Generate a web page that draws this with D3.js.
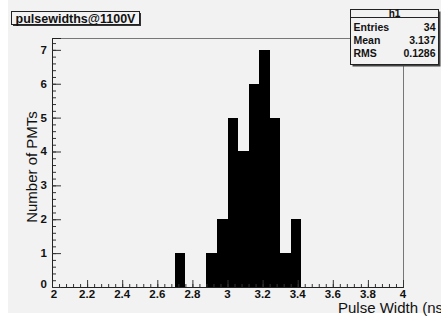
<!DOCTYPE html>
<html>
<head>
<meta charset="utf-8">
<script src="https://cdn.jsdelivr.net/npm/d3@7"></script>
<style>
  body { margin: 0; background: #fff; }
  svg { display: block; }
</style>
</head>
<body>
<div id="chart"></div>
<script>
// histogram data (bin low edges, width 0.06 ns)
var binEdges = [2.70, 2.76, 2.82, 2.88, 2.94, 3.00, 3.06, 3.12, 3.18, 3.24, 3.30, 3.36];
var binCounts = [1, 0, 0, 1, 2, 5, 4, 6, 7, 5, 1, 2];
var binWidth = 0.06;
var xTicks = [2, 2.2, 2.4, 2.6, 2.8, 3, 3.2, 3.4, 3.6, 3.8, 4];
var yTicks = [0, 1, 2, 3, 4, 5, 6, 7];
var statLabels = ["Entries", "Mean", "RMS"];
var statValues = ["34", "3.137", "0.1286"];

var W = 441, H = 316;
var margin = {top: 38, right: 38, bottom: 29, left: 52};
var width = W - margin.left - margin.right,
    height = H - margin.top - margin.bottom;

var svg = d3.select("#chart")
  .append("svg")
    .attr("width", W)
    .attr("height", H)
    .style("font-family", "'Liberation Sans', Arial, sans-serif");

// canvas background
svg.append("rect")
  .attr("x", 8).attr("y", 0)
  .attr("width", W - 8).attr("height", 313)
  .attr("fill", "#f2f2f2");

var g = svg.append("g")
  .attr("transform", "translate(" + margin.left + "," + margin.top + ")");

var x = d3.scaleLinear().domain([2, 4]).range([0, width]);
var y = d3.scaleLinear().domain([0, 7.35]).range([height, 0]);

// bars
g.selectAll("rect.bin")
  .data(binEdges)
  .enter()
  .append("rect")
    .attr("class", "bin")
    .attr("x", function(d) { return x(d); })
    .attr("width", function(d) { return x(d + binWidth) - x(d); })
    .attr("y", function(d, i) { return y(binCounts[i]); })
    .attr("height", function(d, i) { return y(0) - y(binCounts[i]); })
    .attr("fill", "#000")
    .attr("shape-rendering", "crispEdges");

// frame top/right
g.append("path")
  .attr("d", "M0,0.5H" + (width + 0.5) + "V" + height)
  .attr("fill", "none")
  .attr("stroke", "#777");

// x axis: minor ticks, then major
var xAxis = g.append("g").attr("transform", "translate(0," + height + ")");
xAxis.call(d3.axisTop(x).tickValues(d3.range(2, 4.001, 0.04)).tickSize(3).tickFormat(""));
xAxis.append("g").call(d3.axisTop(x).tickValues(xTicks).tickSize(7).tickFormat(""));
xAxis.selectAll(".domain").attr("stroke", "#222");
xAxis.selectAll("line").attr("stroke", "#333");
xAxis.selectAll("text.lab")
  .data(xTicks)
  .enter()
  .append("text")
    .attr("class", "lab")
    .attr("x", function(d) { return x(d) + (d === 2 ? 2 : 0); })
    .attr("y", 11)
    .attr("text-anchor", "middle")
    .attr("fill", "#111")
    .attr("font-size", "11.5px")
    .attr("font-weight", "bold")
    .text(function(d) { return d; });

// y axis
var yAxis = g.append("g");
yAxis.call(d3.axisRight(y).tickValues(d3.range(0, 7.35, 0.2)).tickSize(4).tickFormat(""));
yAxis.append("g").call(d3.axisRight(y).tickValues(yTicks).tickSize(9).tickFormat(""));
yAxis.selectAll(".domain").attr("stroke", "#222");
yAxis.selectAll("line").attr("stroke", "#333");
yAxis.selectAll("text.lab")
  .data(yTicks)
  .enter()
  .append("text")
    .attr("class", "lab")
    .attr("x", -5)
    .attr("y", function(d) { return y(d) + (d === 0 ? 1 : 4); })
    .attr("text-anchor", "end")
    .attr("fill", "#111")
    .attr("font-size", "11.5px")
    .attr("font-weight", "bold")
    .text(function(d) { return d; });

// axis titles
svg.append("text")
  .attr("x", 338)
  .attr("y", 313)
  .attr("font-size", "15px")
  .attr("fill", "#111")
  .text("Pulse Width (ns)");

svg.append("text")
  .attr("transform", "translate(37," + 167 + ") rotate(-90)")
  .attr("text-anchor", "middle")
  .attr("font-size", "15px")
  .attr("fill", "#111")
  .text("Number of PMTs");

// title box
var tb = svg.append("g");
tb.append("rect").attr("x", 13).attr("y", 13).attr("width", 128).attr("height", 13).attr("fill", "#333");
tb.append("rect").attr("x", 11.5).attr("y", 11.5).attr("width", 128).attr("height", 13)
  .attr("fill", "#f2f2f2").attr("stroke", "#222");
tb.append("text")
  .attr("x", 75.5).attr("y", 22.5)
  .attr("text-anchor", "middle")
  .attr("font-size", "12.5px")
  .attr("font-weight", "bold")
  .attr("fill", "#111")
  .text("pulsewidths@1100V");

// stats box
var sb = svg.append("g");
var bx = 350.5, by = 9.5, bw = 88, bh = 55;
sb.append("rect").attr("x", bx + 2).attr("y", by + 2).attr("width", bw).attr("height", bh).attr("fill", "#444");
sb.append("rect").attr("x", bx).attr("y", by).attr("width", bw).attr("height", bh)
  .attr("fill", "#f2f2f2").attr("stroke", "#222");
sb.append("line").attr("x1", bx).attr("x2", bx + bw).attr("y1", 17.5).attr("y2", 17.5).attr("stroke", "#222");
sb.append("text")
  .attr("x", bx + bw / 2).attr("y", 16.5)
  .attr("text-anchor", "middle")
  .attr("font-size", "10px")
  .attr("font-weight", "bold")
  .attr("fill", "#111")
  .text("h1");
sb.selectAll("text.sl")
  .data(statLabels)
  .enter()
  .append("text")
    .attr("class", "sl")
    .attr("x", bx + 3)
    .attr("y", function(d, i) { return 31 + i * 12.8; })
    .attr("font-size", "10.5px")
    .attr("font-weight", "bold")
    .attr("fill", "#111")
    .text(function(d) { return d; });
sb.selectAll("text.sv")
  .data(statValues)
  .enter()
  .append("text")
    .attr("class", "sv")
    .attr("x", bx + bw - 3)
    .attr("y", function(d, i) { return 31 + i * 12.8; })
    .attr("text-anchor", "end")
    .attr("font-size", "10.5px")
    .attr("font-weight", "bold")
    .attr("fill", "#111")
    .text(function(d) { return d; });
</script>
</body>
</html>
